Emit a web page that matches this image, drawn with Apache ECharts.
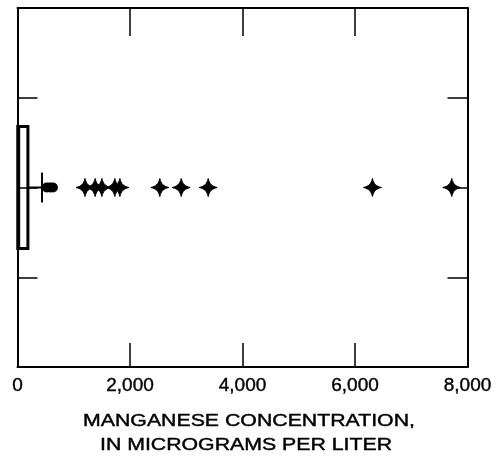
<!DOCTYPE html>
<html>
<head>
<meta charset="utf-8">
<script src="https://cdn.jsdelivr.net/npm/echarts@6/dist/echarts.min.js"></script>
<style>
    html, body { margin: 0; padding: 0; background: #fff; }
    #chart { width: 500px; height: 459px; }
</style>
</head>
<body>
<div id="chart"></div>
<script>
// box summary: [min, q1, median, q3, max]
let boxStats = [0, 5, 30, 185, 435];
// outliers drawn as crosses
let outliers = [1200, 1380, 1500, 1730, 1820, 2530, 2910, 3390, 6310, 7720];
// the small run of values just past the whisker
let nearOutliers = [520, 580, 630];
let xTicks = [0, 2000, 4000, 6000, 8000];
let titleLines = ['MANGANESE CONCENTRATION,', 'IN MICROGRAMS PER LITER'];

// ----------------------------------------------------
let starPath = 'path://M50,0 C57,30 70,43 100,50 C70,57 57,70 50,100 C43,70 30,57 0,50 C30,43 43,30 50,0Z';
let font = 'Liberation Sans';
let ink = '#000';

function frameAxis(extra) {
    let axis = {
        splitLine: { show: false },
        axisLine: { onZero: false, lineStyle: { color: ink, width: 2 } },
        axisLabel: { show: false }
    };
    return Object.assign(axis, extra);
}

let chart = echarts.init(document.getElementById('chart'));
let option = {
    animation: false,
    grid: { left: 17.5, right: 32.5, top: 8, bottom: 92 },
    xAxis: [
        frameAxis({
            type: 'value',
            position: 'bottom',
            min: xTicks[0],
            max: xTicks[xTicks.length - 1],
            interval: 2000,
            axisTick: { inside: true, length: 24, lineStyle: { color: ink, width: 1.5 } },
            axisLabel: {
                margin: 9,
                color: ink,
                fontFamily: font,
                fontSize: 19,
                textBorderColor: ink,
                textBorderWidth: 0.4,
                formatter: function (v) { return v.toLocaleString('en-US'); }
            }
        }),
        frameAxis({
            type: 'value',
            position: 'top',
            min: xTicks[0],
            max: xTicks[xTicks.length - 1],
            interval: 2000,
            axisTick: { inside: true, length: 28, lineStyle: { color: ink, width: 1.5 } }
        })
    ],
    yAxis: [
        {
            type: 'category',
            data: ['Mn'],
            show: false
        },
        frameAxis({
            type: 'value',
            position: 'left',
            min: 0, max: 4, interval: 1,
            axisTick: { inside: true, length: 20, lineStyle: { color: ink, width: 1.5 } }
        }),
        frameAxis({
            type: 'value',
            position: 'right',
            min: 0, max: 4, interval: 1,
            axisTick: { inside: true, length: 20, lineStyle: { color: ink, width: 1.5 } }
        })
    ],
    series: [
        {
            type: 'custom',
            xAxisIndex: 0,
            yAxisIndex: 0,
            data: [boxStats.concat([0])],
            encode: { x: [0, 1, 2, 3, 4], y: 5 },
            renderItem: function (params, api) {
                let y = api.coord([api.value(0), api.value(5)])[1];
                let px = function (i) { return api.coord([api.value(i), api.value(5)])[0]; };
                let half = 61, cap = 15;
                let ls = { stroke: ink, lineWidth: 2 };
                return {
                    type: 'group',
                    children: [
                        { type: 'line', shape: { x1: px(0), y1: y, x2: px(1), y2: y }, style: ls },
                        { type: 'line', shape: { x1: px(3), y1: y, x2: px(4), y2: y }, style: ls },
                        { type: 'line', shape: { x1: px(4), y1: y - cap, x2: px(4), y2: y + cap }, style: ls },
                        { type: 'line', shape: { x1: px(2), y1: y - half, x2: px(2), y2: y + half }, style: ls },
                        {
                            type: 'rect',
                            shape: { x: px(1), y: y - half, width: px(3) - px(1), height: half * 2 },
                            style: { fill: 'none', stroke: ink, lineWidth: 3 }
                        }
                    ]
                };
            }
        },
        {
            type: 'scatter',
            xAxisIndex: 0,
            yAxisIndex: 0,
            symbol: 'circle',
            symbolSize: 10,
            itemStyle: { color: ink, opacity: 1 },
            data: nearOutliers.map(function (v) { return [v, 0]; })
        },
        {
            type: 'scatter',
            xAxisIndex: 0,
            yAxisIndex: 0,
            symbol: starPath,
            symbolSize: 18,
            itemStyle: { color: ink, opacity: 1, borderColor: ink, borderWidth: 1 },
            data: outliers.map(function (v) { return [v, 0]; })
        }
    ],
    graphic: [
        {
            type: 'text', x: 249, y: 422, scaleX: 1.33,
            style: { text: titleLines[0], x: 0, y: 0, align: 'center', verticalAlign: 'middle', fill: ink, stroke: ink, lineWidth: 0.4, font: '16px "Liberation Sans"' }
        },
        {
            type: 'text', x: 246, y: 446, scaleX: 1.33,
            style: { text: titleLines[1], x: 0, y: 0, align: 'center', verticalAlign: 'middle', fill: ink, stroke: ink, lineWidth: 0.4, font: '16px "Liberation Sans"' }
        }
    ]
};

chart.setOption(option);
</script>
</body>
</html>
